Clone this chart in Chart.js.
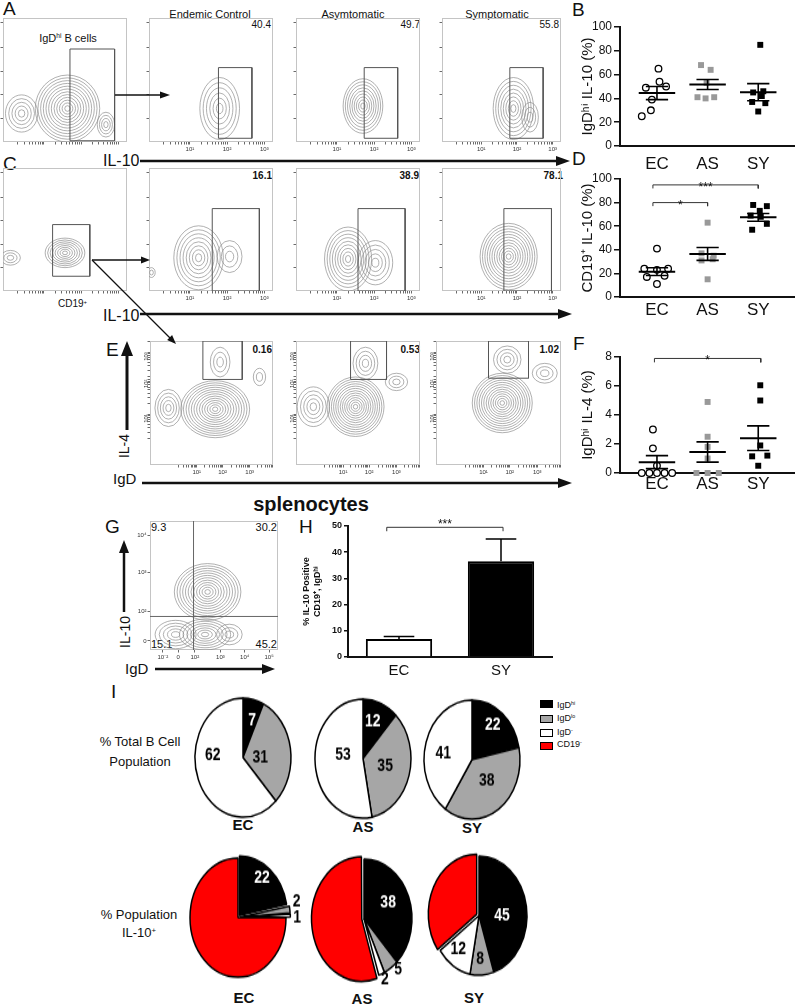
<!DOCTYPE html>
<html>
<head>
<meta charset="utf-8">
<script src="https://cdn.jsdelivr.net/npm/chart.js@4.4.1/dist/chart.umd.min.js"></script>
<style>
body { margin: 0; background: #fff; font-family: "Liberation Sans", Arial, sans-serif; color: #111; }
#fig { position: relative; width: 800px; height: 1006px; overflow: hidden; }
canvas { position: absolute; }
.t { position: absolute; white-space: nowrap; line-height: 1; }
.c { transform: translateX(-50%); }
.r { transform: translateX(-100%); }
.v { transform: translate(-50%, -50%) rotate(-90deg); }
.b { font-weight: bold; }
.L { font-size: 19px; }
sup { font-size: 0.6em; line-height: 0; vertical-align: 0.55em; }
.pie { position: absolute; width: 130px; height: 130px; transform: scaleY(1.24); transform-origin: 0 0; }
.sw { position: absolute; width: 11px; height: 6px; border: 1px solid #000; }
#ann { position: absolute; left: 0; top: 0; z-index: 5; }
</style>
</head>
<body>
<div id="fig">
  <!-- panel letters -->
  <div class="t L" style="left:3px;top:-1px">A</div>
  <div class="t L" style="left:572px;top:0">B</div>
  <div class="t L" style="left:3px;top:154px">C</div>
  <div class="t L" style="left:572px;top:149px">D</div>
  <div class="t L" style="left:106px;top:340px">E</div>
  <div class="t L" style="left:573px;top:334px">F</div>
  <div class="t L" style="left:105px;top:517px">G</div>
  <div class="t L" style="left:299px;top:517px">H</div>
  <div class="t L" style="left:111px;top:682px">I</div>

  <!-- flow panel texts -->
  <div class="t c" style="left:210px;top:9px;font-size:11px">Endemic Control</div>
  <div class="t c" style="left:353px;top:9px;font-size:11px">Asymtomatic</div>
  <div class="t c" style="left:497px;top:9px;font-size:11px">Symptomatic</div>
  <div class="t r" style="left:271px;top:20px;font-size:10px">40.4</div>
  <div class="t r" style="left:420px;top:20px;font-size:10px">49.7</div>
  <div class="t r" style="left:559px;top:20px;font-size:10px">55.8</div>
  <div class="t c" style="left:68px;top:33px;font-size:11px">IgD<sup>hi</sup> B cells</div>
  <div class="t r b" style="left:272px;top:171px;font-size:10px">16.1</div>
  <div class="t r b" style="left:419px;top:171px;font-size:10px">38.9</div>
  <div class="t r b" style="left:563px;top:171px;font-size:10px">78.1</div>
  <div class="t" style="left:58px;top:299px;font-size:10px">CD19<sup>+</sup></div>
  <div class="t r b" style="left:272px;top:345px;font-size:10px">0.16</div>
  <div class="t r b" style="left:420px;top:345px;font-size:10px">0.53</div>
  <div class="t r b" style="left:559px;top:345px;font-size:10px">1.02</div>
  <div class="t" style="left:151px;top:522px;font-size:11px">9.3</div>
  <div class="t r" style="left:277px;top:522px;font-size:11px">30.2</div>
  <div class="t" style="left:151px;top:639px;font-size:11px">15.1</div>
  <div class="t r" style="left:277px;top:639px;font-size:11px">45.2</div>

  <!-- axis words -->
  <div class="t" style="left:103px;top:153px;font-size:16px">IL-10</div>
  <div class="t" style="left:103px;top:308px;font-size:16px">IL-10</div>
  <div class="t" style="left:113px;top:471px;font-size:15px">IgD</div>
  <div class="t v" style="left:124px;top:446px;font-size:14px">IL-4</div>
  <div class="t c b" style="left:311px;top:494px;font-size:20px">splenocytes</div>
  <div class="t v" style="left:125px;top:632px;font-size:14px">IL-10</div>
  <div class="t" style="left:125px;top:661px;font-size:15px">IgD</div>

  <!-- I section -->
  <div class="t c" style="left:140px;top:735px;font-size:13px">% Total B Cell</div>
  <div class="t c" style="left:140px;top:755px;font-size:13px">Population</div>
  <div class="t c" style="left:139px;top:908px;font-size:13px">% Population</div>
  <div class="t c" style="left:139px;top:926px;font-size:13px">IL-10<sup>+</sup></div>
  <div class="t c b" style="left:243px;top:817px;font-size:15px">EC</div>
  <div class="t c b" style="left:363px;top:819px;font-size:15px">AS</div>
  <div class="t c b" style="left:472px;top:820px;font-size:15px">SY</div>
  <div class="t c b" style="left:244px;top:990px;font-size:15px">EC</div>
  <div class="t c b" style="left:362px;top:991px;font-size:15px">AS</div>
  <div class="t c b" style="left:474px;top:990px;font-size:15px">SY</div>

  <!-- legend -->
  <div class="sw" style="left:540px;top:700px;background:#000"></div>
  <div class="sw" style="left:540px;top:715px;background:#a6a6a6"></div>
  <div class="sw" style="left:540px;top:729px;background:#fff"></div>
  <div class="sw" style="left:540px;top:742px;background:#f00"></div>
  <div class="t" style="left:557px;top:701px;font-size:9px">IgD<sup>hi</sup></div>
  <div class="t" style="left:557px;top:714px;font-size:9px">IgD<sup>lo</sup></div>
  <div class="t" style="left:557px;top:728px;font-size:9px">IgD<sup>-</sup></div>
  <div class="t" style="left:557px;top:740px;font-size:9px">CD19<sup>-</sup></div>

  <!-- arrows -->
  <svg id="ann" width="800" height="1006">
    <g stroke="#111" fill="#111">
      <line x1="115" y1="95" x2="162" y2="95" stroke-width="1.3"/>
      <polygon points="170,95 160,91.5 160,98.5" stroke="none"/>
      <line x1="92" y1="260" x2="143" y2="260" stroke-width="1.3"/>
      <polygon points="150,260 141,256.5 141,263.5" stroke="none"/>
      <line x1="92" y1="260" x2="170" y2="338" stroke-width="1.3"/>
      <polygon points="176,344 167.1,340.1 172.1,335.1" stroke="none"/>
      <line x1="140" y1="161" x2="558" y2="161" stroke-width="2.5"/>
      <polygon points="570,161 556,156 556,166" stroke="none"/>
      <line x1="140" y1="314" x2="560" y2="314" stroke-width="2.5"/>
      <polygon points="572,314 558,309 558,319" stroke="none"/>
      <line x1="142" y1="483" x2="560" y2="483" stroke-width="2.5"/>
      <polygon points="572,483 558,478 558,488" stroke="none"/>
      <line x1="127" y1="430" x2="127" y2="353" stroke-width="3"/>
      <polygon points="127,341 121,356 133,356" stroke="none"/>
      <line x1="124" y1="612" x2="124" y2="550" stroke-width="2.5"/>
      <polygon points="124,540 119,553 129,553" stroke="none"/>
      <line x1="155" y1="669" x2="264" y2="669" stroke-width="2.5"/>
      <polygon points="275,669 262,664 262,674" stroke="none"/>
    </g>
  </svg>
</div>

<script>
const fig = document.getElementById('fig');

// flow panels: populations [x, y, rx, ry, rings] in % of display range
const blobsA = [
  [[15, 23, 13, 15, 5], [52, 27, 26, 27, 12], [83, 14, 7, 10, 4]],
  [[57, 27, 16, 25, 6]],
  [[54, 29, 16, 22, 9]],
  [[60, 27, 17, 25, 8], [74, 20, 7, 12, 3]]
];
const blobsC = [
  [[6, 27, 8, 6, 3], [50, 31, 16, 12, 8]],
  [[2, 15, 3, 4, 2], [40, 27, 20, 26, 8], [65, 28, 10, 13, 3]],
  [[42, 26, 19, 26, 9], [64, 23, 14, 18, 5]],
  [[56, 28, 24, 27, 12]]
];
const blobsE = [
  [[15, 46, 11, 15, 5], [53, 45, 28, 23, 13], [57, 83, 8, 12, 3], [89, 71, 5, 7, 2]],
  [[14, 47, 13, 16, 5], [48, 47, 23, 24, 13], [56, 82, 10, 13, 4], [81, 67, 9, 7, 3]],
  [[53, 50, 24, 24, 13], [57, 85, 11, 11, 4], [87, 74, 10, 8, 3]]
];
const blobsG = [[45, 45, 26, 22, 12], [20, 12, 16, 11, 5], [43, 12, 20, 12, 7], [62, 12, 10, 8, 3]];

// gates [x1, x2, y1, y2]
const gatesA = [[54, 90, 1, 75], [56, 83, 3, 60], [55, 82, 3, 60], [57, 85, 3, 60]];
const gatesC = [[40, 70, 12, 54], [51, 89, 0, 67], [50, 88, 0, 67], [52, 92, 0, 67]];
const gatesE = [[43, 75, 69, 100], [44, 73, 69, 100], [42, 74, 70, 100]];
const quadG = [34, 26];

// flow axis ticks
const decadeTicks = [33, 63, 93], decadeLabels = ['10¹', '10²', '10³'];
const eXTicks = [38, 59, 81];
const eYTicks = [41, 69, 91];
const plainYTicks = [19, 38, 57, 76, 96];
const gXTicks = [10, 22, 35, 55, 74, 93], gXLabels = ['10⁻²', '0', '10²', '10³', '10⁴', '10⁵'];
const gYTicks = [7, 30, 60, 89], gYLabels = ['0', '10²', '10³', '10⁴'];

// dot plots
const groups = ['EC', 'AS', 'SY'];
const bEC = [65, 54, 49, 50, 39, 30, 25];
const bAS = [68, 64, 53, 41, 40, 41];
const bSY = [85, 45, 46, 42, 37, 36, 29];
const bMean = [44.5, 51.7, 45.2], bSem = [5.5, 4.2, 7.2];
const dEC = [41, 24, 23, 24, 17, 18, 11];
const dAS = [63, 37, 35, 31, 32, 15];
const dSY = [78, 77, 73, 69, 68, 62, 57];
const dMean = [21.5, 36.5, 67.5], dSem = [3.3, 5.5, 3.3];
const fEC = [3.0, 1.7, 0.5, 0, 0, 0, 0, 0];
const fAS = [4.9, 2.5, 1.8, 1.0, 0, 0, 0];
const fSY = [6.05, 5.0, 1.9, 1.2, 1.15, 0.5];
const fMean = [0.75, 1.45, 2.4], fSem = [0.45, 0.7, 0.85];
// horizontal spread of the dots
const bJit = [[0.03, 0.05, -0.22, 0.18, -0.1, -0.12, -0.3], [-0.13, 0.06, -0.02, -0.2, -0.04, 0.13], [0.04, -0.1, 0.1, 0.07, -0.12, 0.14, 0]];
const dJit = [[0, -0.25, 0, 0.22, -0.2, 0.15, 0], [0, -0.12, 0.12, -0.12, 0.1, 0], [-0.1, 0.17, 0.03, -0.15, 0.05, 0.17, -0.12]];
const fJit = [[-0.08, -0.08, 0, -0.3, -0.15, 0, 0.15, 0.3], [0, 0, 0, 0, -0.22, 0, 0.22], [0.04, 0.04, 0.04, 0.18, -0.12, 0]];
// brackets [from, to, level, stars]
const dBrackets = [[0.92, 2, 80, '*'], [0.92, 3, 95, '***']];
const fBrackets = [[0.95, 3.05, 7.9, '*']];

// H bars
const hCats = ['EC', 'SY'];
const hVals = [6.9, 36.5];
const hErrTop = [7.8, 45];

// I pies
const sliceNames = ['IgDhi', 'IgDlo', 'IgD-', 'CD19-'];
const pieTopEC = [7, 31, 62], pieTopAS = [12, 35, 53], pieTopSY = [22, 38, 41];
const pieBotEC = [22, 2, 1, 75], pieBotAS = [38, 5, 2, 55], pieBotSY = [45, 8, 12, 35];
const sliceColors = ['#000', '#a6a6a6', '#fff', '#f00'];

Chart.defaults.font.family = '"Liberation Sans", Arial, sans-serif';
Chart.defaults.color = '#111';
Chart.defaults.animation = false;
Chart.defaults.plugins.legend.display = false;
Chart.defaults.plugins.tooltip.enabled = false;

function addCanvas(left, top, w, h, parent) {
  const c = document.createElement('canvas');
  c.width = w; c.height = h;
  c.style.left = left + 'px';
  c.style.top = top + 'px';
  (parent || fig).appendChild(c);
  return c;
}

// --- flow plots ---
const contourPlugin = {
  id: 'contours',
  beforeDatasetsDraw(chart) {
    const { ctx, chartArea: a, scales: { x, y } } = chart;
    ctx.save();
    ctx.beginPath();
    ctx.rect(a.left, a.top, a.right - a.left, a.bottom - a.top);
    ctx.clip();
    ctx.strokeStyle = '#8e8e8e';
    ctx.lineWidth = 0.7;
    chart.data.datasets[0].data.forEach(b => {
      const cx = x.getPixelForValue(b.x), cy = y.getPixelForValue(b.y);
      const rx = Math.abs(x.getPixelForValue(b.x + b.rx) - cx);
      const ry = Math.abs(y.getPixelForValue(b.y + b.ry) - cy);
      for (let k = b.n; k >= 1; k--) {
        ctx.beginPath();
        ctx.ellipse(cx, cy, rx * k / b.n, ry * k / b.n, 0, 0, Math.PI * 2);
        ctx.stroke();
      }
    });
    ctx.restore();
  }
};

const framePlugin = {
  id: 'frame',
  beforeDatasetsDraw(chart) {
    const { ctx, chartArea: a } = chart;
    ctx.save();
    ctx.strokeStyle = '#c4c4c4';
    ctx.lineWidth = 1;
    ctx.strokeRect(a.left + 0.5, a.top + 0.5, a.right - a.left - 1, a.bottom - a.top - 1);
    ctx.restore();
  }
};

function withMinor(major) {
  const d = major[1] - major[0], out = major.slice();
  [...major, major[major.length - 1] + d].forEach(m => {
    for (let k = 2; k <= 9; k++) out.push(m - d + d * Math.log10(k));
  });
  return out.filter(v => v > 0 && v < 100);
}

function flowAxis(major, labels, size, isY, minor, rot) {
  const vals = minor ? withMinor(major) : major;
  return {
    type: 'linear', min: 0, max: 100,
    afterBuildTicks: s => { s.ticks = vals.map(v => ({ value: v })); },
    afterFit: s => { if (isY) s.width = size; else s.height = size; },
    ticks: {
      autoSkip: false, minRotation: rot || 0, maxRotation: rot || 0, padding: 1,
      font: { size: 6 }, color: '#333',
      callback: v => { const i = major.indexOf(v); return labels && i >= 0 ? labels[i] : ''; }
    },
    grid: { drawOnChartArea: false, tickLength: 2.5, color: '#444', lineWidth: 0.8 },
    border: { display: false }
  };
}

function lineSet(pts, color, width) {
  return { data: pts.map(p => ({ x: p[0], y: p[1] })), showLine: true, borderColor: color, borderWidth: width, pointRadius: 0, tension: 0 };
}

function gateSet(g) {
  return lineSet([[g[0], g[2]], [g[0], g[3]], [g[1], g[3]], [g[1], g[2]], [g[0], g[2]]], '#555', 1);
}

function flowChart(area, blobs, extra, xt, yt) {
  const [l, t, w, h] = area;
  const yW = yt.size, xH = 13, pad = 6;
  const cv = addCanvas(l - yW, t - pad, w + yW + pad, h + pad + xH);
  const datasets = [{ data: blobs.map(b => ({ x: b[0], y: b[1], rx: b[2], ry: b[3], n: b[4] })), pointRadius: 0 }].concat(extra);
  return new Chart(cv, {
    type: 'scatter',
    data: { datasets },
    options: {
      responsive: false,
      layout: { padding: { top: pad, right: pad, left: 0, bottom: 0 } },
      scales: {
        x: flowAxis(xt.major, xt.labels, xH, false, xt.minor, 0),
        y: flowAxis(yt.major, yt.labels, yW, true, yt.minor, yt.rot)
      }
    },
    plugins: [framePlugin, contourPlugin]
  });
}

const areasA = [[3, 18, 124, 124], [149, 18, 124, 124], [296, 18, 124, 124], [442, 18, 119, 124]];
const areasC = [[3, 168, 124, 123], [149, 168, 124, 123], [296, 168, 124, 123], [442, 168, 119, 123]];
const areasE = [[150, 341, 123, 124], [296, 341, 124, 124], [436, 341, 125, 124]];
const areaG = [150, 521, 128, 129];

const plainY = { major: plainYTicks, labels: null, minor: false, size: 4 };
areasA.forEach((a, i) => flowChart(a, blobsA[i], [gateSet(gatesA[i])],
  { major: decadeTicks, labels: i ? decadeLabels : null, minor: true }, plainY));
areasC.forEach((a, i) => flowChart(a, blobsC[i], [gateSet(gatesC[i])],
  { major: decadeTicks, labels: i ? decadeLabels : null, minor: true }, plainY));
areasE.forEach((a, i) => flowChart(a, blobsE[i], [gateSet(gatesE[i])],
  { major: eXTicks, labels: decadeLabels, minor: true },
  { major: eYTicks, labels: decadeLabels, minor: true, size: 10, rot: 90 }));
flowChart(areaG, blobsG,
  [lineSet([[quadG[0], 0], [quadG[0], 100]], '#666', 1), lineSet([[0, quadG[1]], [100, quadG[1]]], '#666', 1)],
  { major: gXTicks, labels: gXLabels, minor: false },
  { major: gYTicks, labels: gYLabels, minor: false, size: 14 });

// --- dot plots ---
const starPlugin = {
  id: 'stars',
  afterDatasetsDraw(chart, args, opts) {
    const { ctx, scales: { x, y } } = chart;
    ctx.save();
    ctx.fillStyle = '#111';
    ctx.font = '12px "Liberation Sans", Arial';
    ctx.textAlign = 'center';
    ctx.textBaseline = 'alphabetic';
    (opts.list || []).forEach(b => {
      ctx.fillText(b[3], x.getPixelForValue((b[0] + b[1]) / 2), y.getPixelForValue(b[2]) + 6);
    });
    ctx.restore();
  }
};

const markStyles = [
  { pointStyle: 'circle', pointRadius: 3.3, pointBackgroundColor: '#fff', pointBorderWidth: 1.3 },
  { pointStyle: 'rect', pointRadius: 4.2, pointBackgroundColor: '#999', pointBorderWidth: 0 },
  { pointStyle: 'rect', pointRadius: 4.2, pointBackgroundColor: '#000', pointBorderWidth: 0 }
];

function dotPlot(cv, vals, jit, means, sems, yMax, step, title, brackets, xH, labPad, drop) {
  const datasets = [];
  groups.forEach((g, gi) => {
    const c = gi + 1, m = means[gi], s = sems[gi];
    datasets.push(lineSet([[c - 0.36, m], [c + 0.36, m]], '#000', 2));
    datasets.push(lineSet([[c - 0.22, m + s], [c + 0.22, m + s]], '#000', 1.6));
    datasets.push(lineSet([[c - 0.22, m - s], [c + 0.22, m - s]], '#000', 1.6));
    datasets.push(lineSet([[c, m - s], [c, m + s]], '#000', 1.6));
    datasets.push(Object.assign({
      data: vals[gi].map((v, i) => ({ x: c + jit[gi][i], y: v })),
      order: 1, pointBorderColor: '#000', clip: false
    }, markStyles[gi]));
  });
  brackets.forEach(b => {
    const set = lineSet([[b[0], b[2] - drop], [b[0], b[2]], [b[1], b[2]], [b[1], b[2] - drop]], '#333', 1);
    set.clip = false;
    datasets.push(set);
  });
  return new Chart(cv, {
    type: 'scatter',
    data: { datasets },
    options: {
      responsive: false,
      layout: { padding: { top: 12, right: 0, left: 0, bottom: 0 } },
      scales: {
        x: {
          type: 'linear', min: 0.27, max: 3.72,
          afterBuildTicks: s => { s.ticks = [1, 2, 3].map(v => ({ value: v })); },
          afterFit: s => { s.height = xH; },
          ticks: { autoSkip: false, maxRotation: 0, padding: labPad, font: { size: 17 }, color: '#111', callback: v => groups[v - 1] },
          grid: { display: false, drawTicks: false },
          border: { color: '#111', width: 2 }
        },
        y: {
          min: 0, max: yMax,
          afterFit: s => { s.width = 45; },
          ticks: { stepSize: step, padding: 2, font: { size: 12 }, color: '#111' },
          grid: { drawOnChartArea: false, tickLength: 6, color: '#111', lineWidth: 1.5 },
          border: { color: '#111', width: 2 },
          title: { display: true, text: title, font: { size: 15 }, color: '#111', padding: { top: 4, bottom: 0 } }
        }
      },
      plugins: { stars: { list: brackets } }
    },
    plugins: [starPlugin]
  });
}

dotPlot(addCanvas(575, 15, 225, 160), [bEC, bAS, bSY], bJit, bMean, bSem, 100, 20, 'IgDʰⁱ IL-10 (%)', [], 29, 8, 0);
dotPlot(addCanvas(575, 167, 225, 152), [dEC, dAS, dSY], dJit, dMean, dSem, 100, 20, 'CD19⁺ IL-10 (%)', dBrackets, 22, 3, 3);
dotPlot(addCanvas(575, 345, 225, 148), [fEC, fAS, fSY], fJit, fMean, fSem, 8, 2, 'IgDʰⁱ IL-4 (%)', fBrackets, 20, 1, 0.27);

// --- H bar chart ---
const errPlugin = {
  id: 'errbars',
  afterDatasetsDraw(chart, args, opts) {
    const { ctx, scales: { x, y } } = chart;
    const vals = chart.data.datasets[0].data;
    ctx.save();
    ctx.strokeStyle = '#000';
    ctx.lineWidth = 1.5;
    opts.tops.forEach((t, i) => {
      const px = x.getPixelForValue(i), y0 = y.getPixelForValue(vals[i]), y1 = y.getPixelForValue(t);
      const hw = x.getPixelForValue(i + 0.15) - px;
      ctx.beginPath();
      ctx.moveTo(px, y0); ctx.lineTo(px, y1);
      ctx.moveTo(px - hw, y1); ctx.lineTo(px + hw, y1);
      ctx.stroke();
    });
    const b = opts.bracket;
    const x0 = x.getPixelForValue(b[0]), x1 = x.getPixelForValue(b[1]);
    const yb = y.getPixelForValue(b[2]), yd = y.getPixelForValue(b[2] - 1.5);
    ctx.lineWidth = 1;
    ctx.strokeStyle = '#333';
    ctx.beginPath();
    ctx.moveTo(x0, yd); ctx.lineTo(x0, yb); ctx.lineTo(x1, yb); ctx.lineTo(x1, yd);
    ctx.stroke();
    ctx.fillStyle = '#111';
    ctx.font = '12px "Liberation Sans", Arial';
    ctx.textAlign = 'center';
    ctx.fillText(b[3], (x0 + x1) / 2, yb + 1);
    ctx.restore();
  }
};

new Chart(addCanvas(295, 511, 262, 174), {
  type: 'bar',
  data: {
    labels: hCats,
    datasets: [{ data: hVals, backgroundColor: ['#fff', '#000'], borderColor: '#000', borderWidth: 2, barPercentage: 0.65, categoryPercentage: 1 }]
  },
  options: {
    responsive: false,
    layout: { padding: { top: 15, right: 5, left: 0, bottom: 0 } },
    scales: {
      x: {
        afterFit: s => { s.height = 28; },
        ticks: { padding: 5, font: { size: 15 }, color: '#111' },
        grid: { display: false, drawTicks: false },
        border: { color: '#111', width: 2 }
      },
      y: {
        min: 0, max: 50,
        afterFit: s => { s.width = 53; },
        ticks: { stepSize: 10, padding: 2, font: { size: 9, weight: 'bold' }, color: '#111' },
        grid: { drawOnChartArea: false, tickLength: 4, color: '#111', lineWidth: 1.5 },
        border: { color: '#111', width: 2 },
        title: { display: true, text: ['% IL-10 Positive', 'CD19⁺, IgDʰⁱ'], font: { size: 9, weight: 'bold' }, color: '#111', padding: { top: 6, bottom: 0 } }
      }
    },
    plugins: { errbars: { tops: hErrTop, bracket: [-0.12, 1.02, 49.5, '***'] } }
  },
  plugins: [errPlugin]
});

// --- I pies ---
const sliceLabelPlugin = {
  id: 'sliceLabels',
  afterDatasetsDraw(chart, args, opts) {
    const { ctx } = chart;
    const meta = chart.getDatasetMeta(0), vals = chart.data.datasets[0].data;
    ctx.save();
    ctx.font = 'bold 14px "Liberation Sans", Arial';
    ctx.textAlign = 'center';
    ctx.textBaseline = 'middle';
    meta.data.forEach((arc, i) => {
      const p = opts.pos[i];
      if (!p) return;
      const ang = p[0] * Math.PI / 180, r = p[1] * arc.outerRadius;
      ctx.fillStyle = p[2];
      ctx.fillText(String(vals[i]), arc.x + r * Math.sin(ang), arc.y - r * Math.cos(ang));
    });
    ctx.restore();
  }
};

function pie(cx, cy, vals, offsets, labelPos) {
  const wrap = document.createElement('div');
  wrap.className = 'pie';
  wrap.style.left = (cx - 65) + 'px';
  wrap.style.top = (cy - 65 * 1.24) + 'px';
  fig.appendChild(wrap);
  const cv = addCanvas(0, 0, 130, 130, wrap);
  return new Chart(cv, {
    type: 'pie',
    data: {
      labels: sliceNames.slice(0, vals.length),
      datasets: [{ data: vals, backgroundColor: sliceColors.slice(0, vals.length), borderColor: '#000', borderWidth: 1.5, offset: offsets, radius: 48 }]
    },
    options: { responsive: false, layout: { padding: 0 }, plugins: { sliceLabels: { pos: labelPos } } },
    plugins: [sliceLabelPlugin]
  });
}

// label placement [angle from top, radius fraction, colour]
pie(243, 757.5, pieTopEC, 0, [[17, 0.65, '#fff'], [90, 0.36, '#000'], [273, 0.63, '#000']]);
pie(363, 758.5, pieTopAS, 0, [[18, 0.66, '#fff'], [106, 0.48, '#000'], [277, 0.42, '#000']]);
pie(471.5, 760, pieTopSY, 0, [[37, 0.72, '#fff'], [139, 0.47, '#000'], [280, 0.61, '#000']]);
pie(238, 917.5, pieBotEC, [9, 9, 9, 0], [[37, 0.83, '#fff'], [78, 1.25, '#000'], [90, 1.23, '#000'], null]);
pie(364, 919, pieBotAS, [0, 0, 0, 9], [[62, 0.57, '#fff'], [140, 1.11, '#000'], [157, 1.11, '#000'], null]);
pie(479, 916, pieBotSY, [0, 0, 0, 10], [[90, 0.48, '#fff'], [178, 0.74, '#000'], [217, 0.72, '#000'], null]);
</script>
</body>
</html>
